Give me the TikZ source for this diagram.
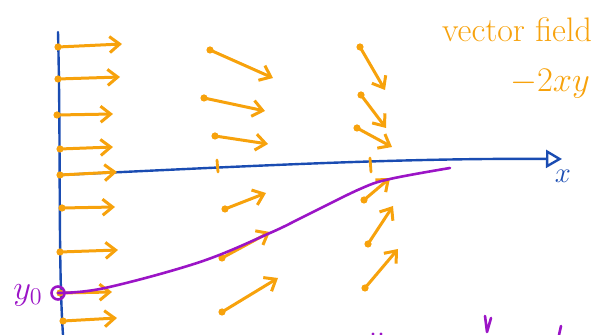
\documentclass[tikz,border=0pt]{standalone}
\usetikzlibrary{arrows.meta}
\definecolor{fieldorange}{HTML}{F7A20C}
\definecolor{axisblue}{HTML}{1A4CB2}
\definecolor{solpurple}{HTML}{9B14C6}
\tikzset{
  fieldarrow/.style={fieldorange, line width=1.5pt, ->},
  axisline/.style={axisblue, line width=1.2pt},
  solline/.style={solpurple, line width=1.3pt}
}
\begin{document}
\begin{tikzpicture}[x=0.5pt, y=-0.5pt, >={Straight Barb[length=5pt,width=8pt]}, line cap=round, line join=round]
  \useasboundingbox (0,0) rectangle (610,335);

  % axes
  \draw[axisline] (58,32) .. controls (61,150) and (58,260) .. (63,335);
  \draw[axisline, -{Triangle[open,length=8pt,width=9pt]}] (60,175) .. controls (250,166) and (400,158) .. (562,159);
  \node[axisblue, font=\fontsize{15}{16}\selectfont] (xlabel) at (563,176) {$x$};
  \draw[fieldorange, line width=1.4pt] (217,160) -- (218,172);
  \draw[fieldorange, line width=1.4pt] (370,158) -- (371,172);

  % vector field arrows
  \foreach \sx/\sy/\ex/\ey in {58/47/122/44, 58/79/120/77, 57/115/113/114, 60/149/113/147,
      60/175/117/172, 62/208/115/207, 60/252/118/250, 60/293/112/292, 63/321/117/318,
      210/50/273/78, 204/98/265/111, 215/136/268/144, 225/209/266/193, 222/258/270/232, 222/312/278/278,
      360/47/385/90, 361/95/386/128, 357/128/392/147, 364/200/390/178, 368/244/393/206, 365/288/398/249}
  {
    \fill[fieldorange] (\sx,\sy) circle (1.8pt);
    \draw[fieldarrow] (\sx,\sy) -- (\ex,\ey);
  }

  % solution through y0
  \node[solpurple, draw, circle, line width=1.3pt, minimum size=6.5pt, inner sep=0pt] (y0) at (58,293) {};
  \draw[solline] plot[smooth, tension=0.6] coordinates {(58,293) (105,288) (200,262) (270,233) (305,216) (360,189) (390,179) (450,168)};
  \node[solpurple, font=\fontsize{18}{20}\selectfont] (y0label) at (28,295) {$y_0$};

  % partial strokes at the bottom
  \draw[solline] (485,316) -- (487,332) -- (491,318);
  \draw[solline] (561,326) -- (559,335);
  \fill[solpurple] (373,334) circle (0.8pt) (381,334) circle (0.8pt);

  % title
  \node[fieldorange, font=\fontsize{17}{19}\selectfont] (title) at (517,30) {vector field};
  \node[fieldorange, font=\fontsize{17}{19}\selectfont] (field) at (550,84) {$-2xy$};
\end{tikzpicture}
\end{document}
